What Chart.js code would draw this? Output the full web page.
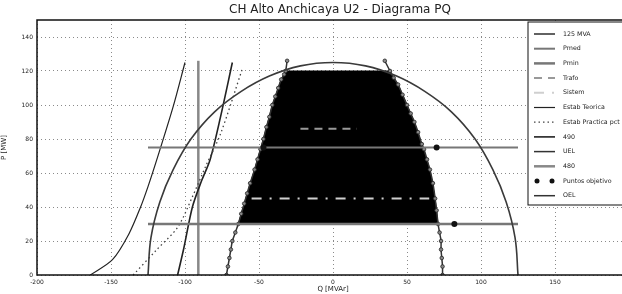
<!DOCTYPE html>
<html>
<head>
<meta charset="utf-8">
<script src="https://cdn.jsdelivr.net/npm/chart.js@4"></script>
<style>
  html, body { margin: 0; padding: 0; background: #fff; overflow: hidden; }
  #wrap { width: 640px; height: 294px; }
</style>
</head>
<body>
<div id="wrap"><canvas id="pq" width="640" height="294"></canvas></div>
<script>
// axis ticks
const qTicks = [-200, -150, -100, -50, 0, 50, 100, 150];
const pTicks = [0, 20, 40, 60, 80, 100, 120, 140];

// 125 MVA capability circle
const circleQ = [125, 123, 117, 108, 96, 80, 62, 43, 22, 0, -22, -43, -62, -80, -96, -108, -117, -123, -125];
const circleP = [0, 22, 43, 62, 80, 96, 108, 117, 123, 125, 123, 117, 108, 96, 80, 62, 43, 22, 0];

// Pmed / Pmin
const pmedQ = [-125, 125];
const pmedP = [75, 75];
const pminQ = [-125, 125];
const pminP = [30, 30];

// Trafo / Sistem
const trafoQ = [-22, 16];
const trafoP = [86, 86];
const sistemQ = [-55, 65];
const sistemP = [45, 45];

// stability limits
const teoQ = [-164, -149, -138, -130, -125, -119, -108, -100];
const teoP = [0, 9, 24, 40, 52, 68, 99, 125];
const pracQ = [-135, -119, -105, -95, -86, -76, -61];
const pracP = [0, 15, 28, 46, 64, 83, 122];

// 490 / 480
const l490Q = [-105, -101, -95, -89, -83, -76, -68];
const l490P = [0, 15, 40, 55, 68, 93, 125];
const l480Q = [-91, -91];
const l480P = [0, 126];

// UEL / OEL boundaries
const uelQ = [-72, -71, -70, -69, -68, -66, -64, -62, -60, -58, -56, -53, -51, -49, -47, -45, -43, -41, -39, -37, -35, -33, -32, -31];
const uelP = [0, 5, 10, 15, 20, 25, 30, 36, 42, 48, 54, 62, 68, 74, 80, 87, 93, 100, 105, 110, 115, 118, 120, 126];
const oelQ = [74, 74, 73.5, 73, 73, 72, 71, 70, 69, 67.5, 65.5, 63.5, 61.5, 60, 57.5, 55, 52.5, 50, 47, 44, 41, 38.5, 35];
const oelP = [0, 5, 10, 15, 20, 25, 30, 38, 45, 54, 62, 68, 74, 77, 84, 90, 95, 100, 106, 112, 116, 120, 126];

// target points
const targetQ = [-47, 70, 82];
const targetP = [75, 75, 30];

// operating region (filled)
const regionQ = [-64, -59, -53, -47, -41, -35, -32, 38.5, 44, 50, 55, 60, 65.5, 69, 71, -64];
const regionP = [30, 45, 62, 80, 100, 115, 120, 120, 112, 100, 90, 77, 62, 45, 30, 30];

const pts = (q, p) => q.map((v, i) => ({ x: v, y: p[i] }));

const line = (label, q, p, color, width, dash, extra) => Object.assign({
  label: label,
  data: pts(q, p),
  showLine: true,
  borderColor: color,
  backgroundColor: color,
  borderWidth: width,
  borderDash: dash || [],
  pointRadius: 0,
  fill: false
}, extra || {});

const datasets = [
  line('Puntos objetivo', targetQ, targetP, '#111', 0, [], {
    showLine: false, pointRadius: 3, pointBackgroundColor: '#111', pointBorderColor: '#111'
  }),
  line('125 MVA', circleQ, circleP, '#3a3a3a', 1.6, [], { tension: 0.4 }),
  line('Pmed', pmedQ, pmedP, '#777', 2),
  line('Pmin', pminQ, pminP, '#777', 2.5),
  line('Trafo', trafoQ, trafoP, '#999', 2, [8, 6]),
  line('Sistem', sistemQ, sistemP, '#cfcfcf', 2, [10, 8, 2, 8]),
  line('Estab Teorica', teoQ, teoP, '#222', 1.2, [], { tension: 0.3 }),
  line('Estab Practica pct', pracQ, pracP, '#444', 1.3, [1.5, 3], { tension: 0.3 }),
  line('490', l490Q, l490P, '#222', 1.6, [], { tension: 0.3 }),
  line('UEL', uelQ, uelP, '#333', 1.5, [], {
    tension: 0.3, pointRadius: 1.8, pointBackgroundColor: '#888', pointBorderColor: '#222', pointBorderWidth: 0.8
  }),
  line('480', l480Q, l480P, '#888', 2.5),
  line('OEL', oelQ, oelP, '#333', 1.5, [], {
    tension: 0.3, pointRadius: 1.8, pointBackgroundColor: '#888', pointBorderColor: '#222', pointBorderWidth: 0.8
  }),
  line('', regionQ, regionP, '#000', 1, [], { fill: 'shape', backgroundColor: '#000' })
];

const legendOrder = ['125 MVA', 'Pmed', 'Pmin', 'Trafo', 'Sistem', 'Estab Teorica',
  'Estab Practica pct', '490', 'UEL', '480', 'Puntos objetivo', 'OEL'];

// title, axes box and legend inside the axes
const boxLegend = {
  id: 'boxLegend',
  afterDraw(chart) {
    const c = chart.ctx, a = chart.chartArea;
    c.save();
    c.fillStyle = '#222';
    c.font = '12px "DejaVu Sans"';
    c.textAlign = 'center';
    c.textBaseline = 'middle';
    c.fillText('CH Alto Anchicaya U2 - Diagrama PQ', 340, 10);

    c.strokeStyle = '#111';
    c.lineWidth = 1.5;
    c.strokeRect(a.left, a.top, a.right - a.left, a.bottom - a.top);

    const x0 = 528, y0 = 22, w = 120, h = 183;
    c.fillStyle = '#fff';
    c.fillRect(x0, y0, w, h);
    c.lineWidth = 1;
    c.strokeRect(x0, y0, w, h);
    c.font = '6.3px "DejaVu Sans"';
    c.textAlign = 'left';
    legendOrder.forEach((name, i) => {
      const ds = chart.data.datasets.find(d => d.label === name);
      const y = y0 + 12 + i * 14.7;
      if (name === 'Puntos objetivo') {
        c.fillStyle = '#111';
        [537, 552].forEach(px => { c.beginPath(); c.arc(px, y, 2.5, 0, Math.PI * 2); c.fill(); });
      } else {
        c.strokeStyle = ds.borderColor;
        c.lineWidth = Math.max(ds.borderWidth, 1);
        c.setLineDash(ds.borderDash || []);
        c.beginPath(); c.moveTo(534, y); c.lineTo(555, y); c.stroke();
        c.setLineDash([]);
      }
      c.fillStyle = '#222';
      c.fillText(name, 563, y);
    });
    c.restore();
  }
};

new Chart(document.getElementById('pq'), {
  type: 'scatter',
  data: { datasets: datasets },
  options: {
    responsive: false,
    animation: false,
    devicePixelRatio: 1,
    layout: { padding: { left: 0, right: 11, top: 20, bottom: 0 } },
    plugins: {
      legend: { display: false },
      tooltip: { enabled: false },
      title: { display: false }
    },
    scales: {
      x: {
        type: 'linear',
        min: -200, max: 200,
        z: 1,
        afterBuildTicks: s => { s.ticks = qTicks.map(v => ({ value: v })); },
        afterFit: s => { s.height = 19; },
        grid: { color: '#8a8a8a', lineWidth: 1, drawTicks: false },
        border: { display: false, dash: [1, 3] },
        ticks: { color: '#222', font: { family: 'DejaVu Sans', size: 6 }, padding: 4, autoSkip: false, maxRotation: 0 },
        title: { display: true, text: 'Q [MVAr]', color: '#222', font: { family: 'DejaVu Sans', size: 7 }, padding: { top: 0, bottom: 1 } }
      },
      y: {
        type: 'linear',
        min: 0, max: 150,
        z: 1,
        afterBuildTicks: s => { s.ticks = pTicks.map(v => ({ value: v })); },
        afterFit: s => { s.width = 37; },
        grid: { color: '#8a8a8a', lineWidth: 1, drawTicks: false },
        border: { display: false, dash: [1, 3] },
        ticks: { color: '#222', font: { family: 'DejaVu Sans', size: 6 }, padding: 4 },
        title: { display: true, text: 'P [MW]', color: '#222', font: { family: 'DejaVu Sans', size: 7 }, padding: { top: 0, bottom: 2 } }
      }
    }
  },
  plugins: [boxLegend]
});
</script>
</body>
</html>
